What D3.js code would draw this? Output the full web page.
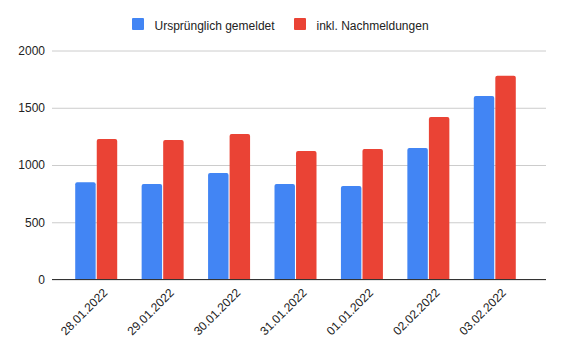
<!DOCTYPE html>
<html>
<head>
<meta charset="utf-8">
<script src="https://cdn.jsdelivr.net/npm/d3@7"></script>
<style>
  body { margin: 0; background: #fff; }
  text { font-family: "Liberation Sans", Arial, sans-serif; fill: #222; }
</style>
</head>
<body>
<div id="wrapper"></div>
<script>
// data
const dates = ["28.01.2022", "29.01.2022", "30.01.2022", "31.01.2022", "01.01.2022", "02.02.2022", "03.02.2022"];
const seriesNames = ["Ursprünglich gemeldet", "inkl. Nachmeldungen"];
const original = [850, 834, 930, 834, 816, 1148, 1602];
const withLate = [1227, 1218, 1270, 1122, 1140, 1419, 1780];
const yTicks = [0, 500, 1000, 1500, 2000];
const colors = ["#4285f4", "#ea4335"];

function drawChart() {
    const width = 564, height = 352;
    const font = "'Liberation Sans', Arial, sans-serif";

    const svg = d3.select("#wrapper").append("svg")
        .attr("width", width)
        .attr("height", height);

    const xScale = d3.scaleBand()
        .domain(dates)
        .range([63, 528])
        .paddingInner(0)
        .paddingOuter(0);

    const yScale = d3.scaleLinear()
        .domain([0, 2000])
        .range([279.5, 50.5]);

    const innerScale = d3.scaleBand()
        .domain([0, 1])
        .range([0, 42])
        .paddingInner(0.05);

    // grid lines
    const yAxis = d3.axisLeft(yScale)
        .tickValues(yTicks)
        .tickSize(-(546 - 52))
        .tickPadding(7)
        .tickFormat(d3.format("d"));

    const yG = svg.append("g")
        .attr("transform", "translate(52,0)")
        .call(yAxis);
    yG.select(".domain").remove();
    yG.selectAll(".tick line").attr("stroke", "#cccccc");
    yG.selectAll(".tick text")
        .attr("font-size", 12)
        .attr("fill", "#222")
        .style("font-family", font);

    // bars
    const rows = dates.map((d, i) => ({ date: d, values: [original[i], withLate[i]] }));
    const r = 2;
    const barPath = (x, y, w, h) =>
        `M${x},${y + h}V${y + r}Q${x},${y} ${x + r},${y}H${x + w - r}Q${x + w},${y} ${x + w},${y + r}V${y + h}Z`;

    const groups = svg.selectAll(".group")
        .data(rows)
        .join("g")
        .attr("class", "group")
        .attr("transform", d => `translate(${xScale(d.date) + (xScale.bandwidth() - 42) / 2},0)`);

    groups.selectAll("path")
        .data(d => d.values)
        .join("path")
        .attr("fill", (v, i) => colors[i])
        .attr("d", (v, i) => {
            const y = yScale(v);
            return barPath(innerScale(i), y, innerScale.bandwidth(), yScale(0) - y);
        });

    // baseline
    svg.append("line")
        .attr("x1", 52).attr("x2", 546)
        .attr("y1", yScale(0)).attr("y2", yScale(0))
        .attr("stroke", "#333")
        .attr("stroke-width", 1);

    // x labels
    const xAxis = d3.axisBottom(xScale).tickSize(0).tickPadding(0);
    const xG = svg.append("g")
        .attr("transform", `translate(6,${yScale(0) + 8})`)
        .call(xAxis);
    xG.select(".domain").remove();
    xG.selectAll(".tick text")
        .attr("font-size", 12)
        .attr("fill", "#222")
        .style("font-family", font)
        .attr("text-anchor", "end")
        .attr("dy", "0.71em")
        .attr("transform", "rotate(-45)");

    // legend
    const legendX = [132, 294];
    const legend = svg.selectAll(".legend")
        .data(seriesNames)
        .join("g")
        .attr("class", "legend")
        .attr("transform", (d, i) => `translate(${legendX[i]},18)`);
    legend.append("rect")
        .attr("width", 12).attr("height", 12)
        .attr("rx", 1)
        .attr("fill", (d, i) => colors[i]);
    legend.append("text")
        .attr("x", 22.5)
        .attr("y", 11.5)
        .attr("font-size", 12)
        .text(d => d);
}

drawChart();
</script>
</body>
</html>
